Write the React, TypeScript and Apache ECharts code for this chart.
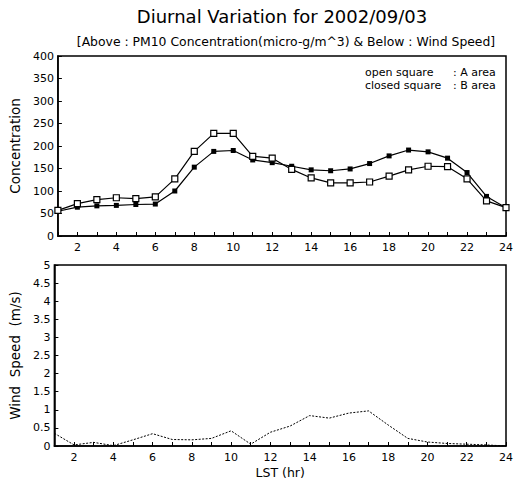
import React, { useEffect, useRef } from "react";
import * as echarts from "echarts";

const hours = [1, 2, 3, 4, 5, 6, 7, 8, 9, 10, 11, 12, 13, 14, 15, 16, 17, 18, 19, 20, 21, 22, 23, 24];
const areaA = [57, 72, 81, 85, 83, 87, 127, 188, 228, 228, 177, 173, 148, 129, 118, 118, 120, 133, 147, 155, 154, 127, 78, 63];
const areaB = [55, 64, 67, 68, 70, 71, 100, 153, 188, 190, 169, 163, 155, 147, 145, 149, 161, 178, 191, 187, 173, 141, 88, 63];
const wind = [0.35, 0.03, 0.1, 0.01, 0.17, 0.34, 0.18, 0.17, 0.21, 0.42, 0.05, 0.38, 0.55, 0.84, 0.77, 0.91, 0.97, 0.58, 0.21, 0.11, 0.07, 0.05, 0.03, 0.0];

const FONT = "DejaVu Sans";

export default function App() {
  const ref = useRef<HTMLDivElement>(null);
  useEffect(() => {
    if (!ref.current) return;
    const chart = echarts.init(ref.current, undefined, { renderer: "svg" });
    const pair = (arr: number[]) => hours.map((h, i) => [h, arr[i]]);
    const xAxisBase = (gridIndex: number) => ({
      type: "value",
      gridIndex,
      min: 1,
      max: 24,
      interval: 1,
      axisLine: { show: true, lineStyle: { color: "#000", width: 1.5 } },
      axisTick: { show: true, inside: true, length: 4, lineStyle: { color: "#000" } },
      axisLabel: {
        color: "#000",
        fontFamily: FONT,
        fontSize: 11,
        margin: 6,
        formatter: (v: number) => (v % 2 === 0 ? String(v) : ""),
      },
      splitLine: { show: false },
    });
    const option = {
      animation: false,
      backgroundColor: "#fff",
      textStyle: { fontFamily: FONT },
      title: [
        {
          text: "Diurnal Variation for 2002/09/03",
          left: 277,
          top: 2,
          textAlign: "center",
          textStyle: { fontFamily: FONT, fontSize: 18, fontWeight: "normal", color: "#000" },
        },
        {
          text: "[Above : PM10 Concentration(micro-g/m^3) & Below : Wind Speed]",
          left: 281,
          top: 30,
          textAlign: "center",
          textStyle: { fontFamily: FONT, fontSize: 12.4, fontWeight: "normal", color: "#000" },
        },
      ],
      grid: [
        { left: 45, top: 56, width: 465, height: 180, show: true, borderColor: "#000", borderWidth: 1.5 },
        { left: 45, top: 265, width: 466, height: 181, show: true, borderColor: "#000", borderWidth: 1.5 },
      ],
      xAxis: [
        xAxisBase(0),
        {
          ...xAxisBase(1),
          name: "LST (hr)",
          nameLocation: "middle",
          nameGap: 20,
          nameTextStyle: { color: "#000", fontFamily: FONT, fontSize: 12.5 },
        },
      ],
      yAxis: [
        {
          type: "value",
          gridIndex: 0,
          min: 0,
          max: 400,
          interval: 50,
          name: "Concentration",
          nameLocation: "middle",
          nameGap: 28,
          nameTextStyle: { color: "#000", fontFamily: FONT, fontSize: 13.5 },
          axisLine: { show: true, lineStyle: { color: "#000", width: 1.5 } },
          axisTick: { show: true, inside: true, length: 4, lineStyle: { color: "#000" } },
          axisLabel: { color: "#000", fontFamily: FONT, fontSize: 11, margin: 4 },
          splitLine: { show: false },
        },
        {
          type: "value",
          gridIndex: 1,
          min: 0,
          max: 5,
          interval: 0.5,
          name: "Wind  Speed  (m/s)",
          nameLocation: "middle",
          nameGap: 28,
          nameTextStyle: { color: "#000", fontFamily: FONT, fontSize: 13.5 },
          axisLine: { show: true, lineStyle: { color: "#000", width: 1.5 } },
          axisTick: { show: true, inside: true, length: 4, lineStyle: { color: "#000" } },
          axisLabel: { color: "#000", fontFamily: FONT, fontSize: 11, margin: 4 },
          splitLine: { show: false },
        },
      ],
      series: [
        {
          name: "A area",
          type: "line",
          xAxisIndex: 0,
          yAxisIndex: 0,
          data: pair(areaA),
          symbol: "rect",
          symbolSize: 6,
          itemStyle: { color: "#fff", borderColor: "#000", borderWidth: 1.2 },
          lineStyle: { color: "#000", width: 1.2 },
          z: 3,
        },
        {
          name: "B area",
          type: "line",
          xAxisIndex: 0,
          yAxisIndex: 0,
          data: pair(areaB),
          symbol: "rect",
          symbolSize: 5,
          itemStyle: { color: "#000", borderColor: "#000", borderWidth: 0 },
          lineStyle: { color: "#000", width: 1.2 },
          z: 2,
        },
        {
          name: "Wind",
          type: "line",
          xAxisIndex: 1,
          yAxisIndex: 1,
          data: pair(wind),
          symbol: "none",
          lineStyle: { color: "#000", width: 1, type: [2, 1.5] },
        },
      ],
      graphic: [
        { type: "text", left: 365, top: 67, style: { text: "open square", font: `11px "${FONT}"`, fill: "#000" } },
        { type: "text", left: 365, top: 80, style: { text: "closed square", font: `11px "${FONT}"`, fill: "#000" } },
        { type: "text", left: 453, top: 67, style: { text: ": A area", font: `11px "${FONT}"`, fill: "#000" } },
        { type: "text", left: 453, top: 80, style: { text: ": B area", font: `11px "${FONT}"`, fill: "#000" } },
      ],
    };
    chart.setOption(option as any);
    return () => chart.dispose();
  }, []);
  return (
    <div
      ref={ref}
      style={{ position: "absolute", left: 0, top: 0, width: 516, height: 486, background: "#fff" }}
    />
  );
}
